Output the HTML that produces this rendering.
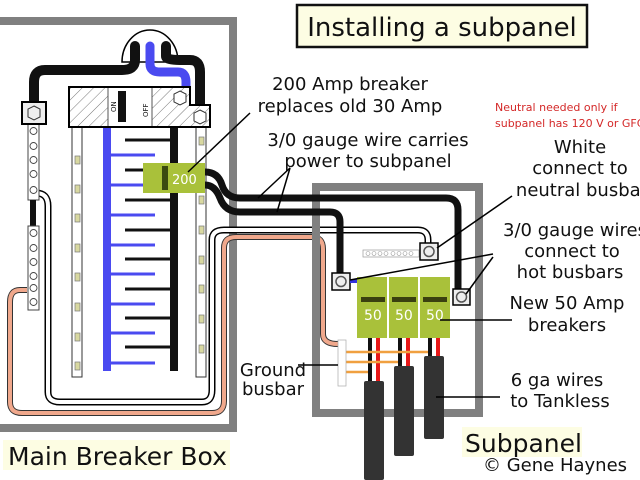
<!DOCTYPE html>
<html><head><meta charset="utf-8"><style>
html,body{margin:0;padding:0;background:#fff}
svg{display:block}
text{font-family:"DejaVu Sans","Liberation Sans",sans-serif;fill:#111}
</style></head><body>
<svg width="640" height="480" viewBox="0 0 640 480" xmlns="http://www.w3.org/2000/svg">
<defs>
<pattern id="h" width="8" height="8" patternUnits="userSpaceOnUse" patternTransform="rotate(45)">
<line x1="0" y1="0" x2="0" y2="8" stroke="#555" stroke-width="0.8"/></pattern>
</defs>
<!-- main box -->
<rect x="-10" y="21" width="243" height="407" fill="#fff" stroke="#808080" stroke-width="8"/>
<rect x="3" y="440" width="227" height="30" fill="#fdfde3"/>
<text x="8" y="465" font-size="25">Main Breaker Box</text>

<!-- white wire main -> sub -->
<path d="M36 193 Q48 193 48 206 L48 392 Q48 402 60 402 L202 402 Q212 402 212 390 L212 240 Q212 230 224 230 L418 230 Q428 230 428 240 L428 248" fill="none" stroke="#000" stroke-width="7"/>
<path d="M36 193 Q48 193 48 206 L48 392 Q48 402 60 402 L202 402 Q212 402 212 390 L212 240 Q212 230 224 230 L418 230 Q428 230 428 240 L428 248" fill="none" stroke="#fff" stroke-width="4"/>
<!-- ground wire -->
<path d="M27 290 L20 290 Q10 290 10 302 L10 402 Q10 413 22 413 L212 413 Q224 413 224 401 L224 248 Q224 237 236 237 L312 237 Q323 237 323 249 L323 334 Q323 344 338 344" fill="none" stroke="#333" stroke-width="6"/>
<path d="M27 290 L20 290 Q10 290 10 302 L10 402 Q10 413 22 413 L212 413 Q224 413 224 401 L224 248 Q224 237 236 237 L312 237 Q323 237 323 249 L323 334 Q323 344 338 344" fill="none" stroke="#f0a88c" stroke-width="4"/>

<!-- rails -->
<rect x="72" y="127" width="10" height="250" fill="#fff" stroke="#333" stroke-width="1"/>
<rect x="196" y="127" width="10" height="250" fill="#fff" stroke="#333" stroke-width="1"/>
<g fill="#d8d8a0" stroke="#777" stroke-width="0.7">
<rect x="75" y="156" width="5" height="8"/><rect x="75" y="185" width="5" height="8"/><rect x="75" y="214" width="5" height="8"/><rect x="75" y="244" width="5" height="8"/><rect x="75" y="273" width="5" height="8"/><rect x="75" y="303" width="5" height="8"/><rect x="75" y="333" width="5" height="8"/><rect x="75" y="362" width="5" height="8"/>
<rect x="199" y="137" width="5" height="8"/><rect x="199" y="167" width="5" height="8"/><rect x="199" y="196" width="5" height="8"/><rect x="199" y="226" width="5" height="8"/><rect x="199" y="256" width="5" height="8"/><rect x="199" y="285" width="5" height="8"/><rect x="199" y="315" width="5" height="8"/><rect x="199" y="345" width="5" height="8"/>
</g>
<!-- buses -->
<rect x="103" y="127" width="8" height="244" fill="#4a4af0"/>
<g stroke="#4a4af0" stroke-width="3">
<line x1="111" y1="155" x2="155" y2="155"/><line x1="111" y1="185" x2="155" y2="185"/><line x1="111" y1="215" x2="155" y2="215"/><line x1="111" y1="245" x2="155" y2="245"/><line x1="111" y1="274" x2="155" y2="274"/><line x1="111" y1="304" x2="155" y2="304"/><line x1="111" y1="333" x2="155" y2="333"/><line x1="111" y1="363" x2="155" y2="363"/>
</g>
<rect x="170" y="127" width="8" height="244" fill="#111"/>
<g stroke="#111" stroke-width="3">
<line x1="125" y1="140" x2="170" y2="140"/><line x1="125" y1="170" x2="170" y2="170"/><line x1="125" y1="200" x2="170" y2="200"/><line x1="125" y1="230" x2="170" y2="230"/><line x1="125" y1="259" x2="170" y2="259"/><line x1="125" y1="289" x2="170" y2="289"/><line x1="125" y1="318" x2="170" y2="318"/><line x1="125" y1="347" x2="170" y2="347"/>
</g>

<!-- neutral strips -->
<rect x="28" y="124" width="11" height="76" fill="#fff" stroke="#444"/>
<rect x="30" y="200" width="6" height="26" fill="#111"/>
<rect x="28" y="226" width="11" height="84" fill="#fff" stroke="#444"/>
<g fill="none" stroke="#444" stroke-width="0.9">
<circle cx="33.5" cy="131" r="3.5"/><circle cx="33.5" cy="146" r="3.5"/><circle cx="33.5" cy="160" r="3.5"/><circle cx="33.5" cy="174" r="3.5"/><circle cx="33.5" cy="190" r="3.5"/>
<circle cx="33.5" cy="233" r="3.5"/><circle cx="33.5" cy="248" r="3.5"/><circle cx="33.5" cy="262" r="3.5"/><circle cx="33.5" cy="276" r="3.5"/><circle cx="33.5" cy="288" r="3.5"/><circle cx="33.5" cy="302" r="3.5"/>
</g>

<!-- meter dome + wires -->
<path d="M122 62 A28 32 0 0 1 178 62 Z" fill="#fff" stroke="#000" stroke-width="1.5"/>
<path d="M150 46 L150 64 Q150 72 160 72 L178 72 Q186 72 186 82 L186 90" fill="none" stroke="#4a4af0" stroke-width="9" stroke-linecap="round"/>
<path d="M135 46 L135 60 Q135 70 122 70 L45 70 Q34 70 34 82 L34 104" fill="none" stroke="#111" stroke-width="10" stroke-linecap="round"/>
<path d="M166 46 L166 56 Q166 60 180 60 L190 60 Q200 60 200 72 L200 112" fill="none" stroke="#111" stroke-width="10" stroke-linecap="round"/>
<rect x="22" y="102" width="24" height="22" fill="#eee" stroke="#000" stroke-width="2"/>
<polygon points="34,106 40,109 40,117 34,120 28,117 28,109" fill="none" stroke="#333"/>
<!-- main breaker -->
<path d="M69 87 L190 87 L190 105 L210 105 L210 127 L69 127 Z" fill="#fff" stroke="#000" stroke-width="2"/>
<path d="M70 88 L108 88 L108 126 L70 126 Z" fill="url(#h)"/>
<path d="M152 88 L189 88 L189 106 L209 106 L209 126 L152 126 Z" fill="url(#h)"/>
<line x1="108" y1="88" x2="108" y2="126" stroke="#555"/>
<line x1="152" y1="88" x2="152" y2="126" stroke="#555"/>
<rect x="118" y="91" width="8" height="31" fill="#111"/>
<text x="0" y="0" font-size="7" transform="translate(116,112) rotate(-90)">ON</text>
<text x="0" y="0" font-size="7" transform="translate(148,117) rotate(-90)">OFF</text>
<polygon points="180,91 186,94 186,102 180,105 174,102 174,94" fill="#fff" stroke="#333"/>
<polygon points="200,110 206,113 206,121 200,124 194,121 194,113" fill="#fff" stroke="#333"/>

<!-- subpanel -->
<rect x="316" y="187" width="163" height="226" fill="none" stroke="#808080" stroke-width="8"/>
<!-- feeder wires -->
<path d="M205 172 Q218 172 222 185 Q226 198 240 198 L446 198 Q458 198 458 210 L458 292" fill="none" stroke="#111" stroke-width="7"/>
<path d="M205 185 Q215 185 220 198 Q225 212 240 212 L330 212 Q340 212 340 222 L340 278" fill="none" stroke="#111" stroke-width="7"/>
<!-- 200 breaker -->
<rect x="143" y="163" width="62" height="30" fill="#a9c13a"/>
<rect x="162" y="166" width="6" height="24" fill="#3a4a10"/>
<text x="172" y="184" font-size="13" style="fill:#fff">200</text>

<!-- neutral busbar -->
<rect x="363" y="250" width="56" height="7" fill="#fff" stroke="#999" stroke-width="0.7"/>
<g fill="none" stroke="#999" stroke-width="0.6"><circle cx="368" cy="253.5" r="2"/><circle cx="374" cy="253.5" r="2"/><circle cx="380" cy="253.5" r="2"/><circle cx="386" cy="253.5" r="2"/><circle cx="393" cy="253.5" r="2"/><circle cx="399" cy="253.5" r="2"/><circle cx="405" cy="253.5" r="2"/><circle cx="411" cy="253.5" r="2"/></g>
<!-- lugs -->
<g fill="#eee" stroke="#000" stroke-width="1.5">
<rect x="420" y="243" width="18" height="17"/><rect x="332" y="273" width="18" height="17"/><rect x="453" y="289" width="17" height="16"/></g>
<g fill="none" stroke="#555" stroke-width="1.5"><circle cx="429" cy="251.5" r="5"/><circle cx="341" cy="281.5" r="5"/><circle cx="461.5" cy="297" r="5"/></g>
<rect x="350" y="279" width="7" height="4" fill="#3333dd"/>
<!-- 50A breakers -->
<g fill="#a9c13a"><rect x="357" y="277" width="30" height="61"/><rect x="389" y="277" width="29" height="61"/><rect x="420" y="277" width="30" height="61"/></g>
<g fill="#3a4010"><rect x="361" y="297" width="24" height="5"/><rect x="392" y="297" width="24" height="5"/><rect x="423" y="297" width="24" height="5"/></g>
<g font-size="14" style="fill:#fff"><text x="364" y="320" style="fill:#fff">50</text><text x="395" y="320" style="fill:#fff">50</text><text x="426" y="320" style="fill:#fff">50</text></g>
<!-- branch wires -->
<g stroke-width="4"><line x1="370" y1="338" x2="370" y2="383" stroke="#111"/><line x1="378" y1="338" x2="378" y2="383" stroke="#e81818"/>
<line x1="400" y1="338" x2="400" y2="368" stroke="#111"/><line x1="408" y1="338" x2="408" y2="368" stroke="#e81818"/>
<line x1="430" y1="338" x2="430" y2="358" stroke="#111"/><line x1="438" y1="338" x2="438" y2="358" stroke="#e81818"/></g>
<g stroke="#f0a040" stroke-width="2.5"><line x1="345" y1="352" x2="428" y2="352"/><line x1="345" y1="362" x2="398" y2="362"/><line x1="345" y1="372" x2="368" y2="372"/></g>
<rect x="338" y="340" width="8" height="46" fill="#fff" stroke="#aaa" stroke-width="0.7"/>
<!-- cables -->
<rect x="364" y="381" width="20" height="99" rx="2" fill="#333"/>
<rect x="394" y="366" width="20" height="90" rx="2" fill="#333"/>
<rect x="424" y="356" width="20" height="83" rx="2" fill="#333"/>

<!-- leaders -->
<g stroke="#000" stroke-width="1.5" fill="none">
<line x1="250" y1="113" x2="188" y2="172"/>
<line x1="290" y1="168" x2="258" y2="198"/><line x1="290" y1="168" x2="277" y2="212"/>
<line x1="437" y1="248" x2="512" y2="196"/>
<line x1="350" y1="280" x2="493" y2="254"/><line x1="466" y1="294" x2="493" y2="257"/>
<line x1="440" y1="320" x2="512" y2="320"/>
<line x1="298" y1="365" x2="338" y2="365"/>
<line x1="436" y1="397" x2="500" y2="397"/>
</g>

<!-- texts -->
<rect x="297" y="5" width="290" height="42" fill="#fdfde3" stroke="#111" stroke-width="2.5"/>
<text x="442" y="36" font-size="26" text-anchor="middle">Installing a subpanel</text>
<g font-size="18" text-anchor="middle">
<text x="350" y="90">200 Amp breaker</text>
<text x="350" y="112">replaces old 30 Amp</text>
<text x="368" y="146">3/0 gauge wire carries</text>
<text x="368" y="167">power to subpanel</text>
<text x="580" y="153">White</text>
<text x="580" y="174">connect to</text>
<text x="582" y="196">neutral busbar</text>
<text x="575" y="236">3/0 gauge wires</text>
<text x="572" y="257">connect to</text>
<text x="570" y="278">hot busbars</text>
<text x="567" y="309">New 50 Amp</text>
<text x="567" y="331">breakers</text>
<text x="557" y="386">6 ga wires</text>
<text x="560" y="407">to Tankless</text>
<text x="273" y="376">Ground</text>
<text x="273" y="395">busbar</text>
</g>
<g font-size="11" style="fill:#d42828"><text x="495" y="111" style="fill:#d42828">Neutral needed only if</text><text x="495" y="127" style="fill:#d42828">subpanel has 120 V or GFCI</text></g>
<rect x="462" y="427" width="120" height="30" fill="#fdfde3"/>
<text x="465" y="452" font-size="25">Subpanel</text>
<text x="483" y="471" font-size="18">© Gene Haynes</text>
</svg>
</body></html>
